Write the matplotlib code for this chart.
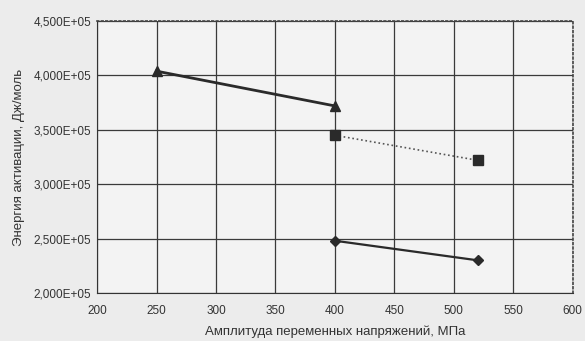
import matplotlib.pyplot as plt
from matplotlib.ticker import FuncFormatter

plt.rcParams['font.family'] = ['Liberation Sans', 'DejaVu Sans']

# данные
x_tri = [250, 400]
y_tri = [4.04e5, 3.72e5]
x_sq = [400, 520]
y_sq = [3.45e5, 3.22e5]
x_dia = [400, 520]
y_dia = [2.48e5, 2.30e5]

xticks = [200, 250, 300, 350, 400, 450, 500, 550, 600]
yticks = [2.0e5, 2.5e5, 3.0e5, 3.5e5, 4.0e5, 4.5e5]


def fmt(v, pos):
    return ('%.3fE+05' % (v / 1e5)).replace('.', ',')


fig = plt.figure(figsize=(5.85, 3.41), dpi=100, facecolor='#ececec')
ax = fig.add_axes([0.166, 0.141, 0.813, 0.797])
ax.set_facecolor('#f3f3f3')

ax.plot(x_tri, y_tri, color='#2a2a2a', lw=2, marker='^', ms=7)
ax.plot(x_sq, y_sq, color='#555555', lw=1.2, ls=':', marker='s', ms=7,
        mfc='#2a2a2a', mec='#2a2a2a')
ax.plot(x_dia, y_dia, color='#2a2a2a', lw=1.6, marker='D', ms=5)

ax.set_xlim(200, 600)
ax.set_ylim(2.0e5, 4.5e5)
ax.set_xticks(xticks)
ax.set_yticks(yticks)
ax.yaxis.set_major_formatter(FuncFormatter(fmt))
ax.grid(True, color='#3a3a3a', lw=0.9)
ax.set_axisbelow(True)
ax.tick_params(length=0, labelsize=8.5, colors='#333333')
ax.tick_params(axis='x', pad=9)
ax.tick_params(axis='y', pad=4)

for s in ['top', 'right']:
    ax.spines[s].set_linestyle(':')
    ax.spines[s].set_linewidth(1.2)
    ax.spines[s].set_color('#444444')
for s in ['left', 'bottom']:
    ax.spines[s].set_color('#333333')

ax.set_xlabel('Амплитуда переменных напряжений, МПа', fontsize=9.5,
              color='#333333', labelpad=6)
ax.set_ylabel('Энергия активации, Дж/моль', fontsize=9.5, color='#333333',
              labelpad=6)

plt.savefig('out.png', dpi=100, facecolor=fig.get_facecolor())
